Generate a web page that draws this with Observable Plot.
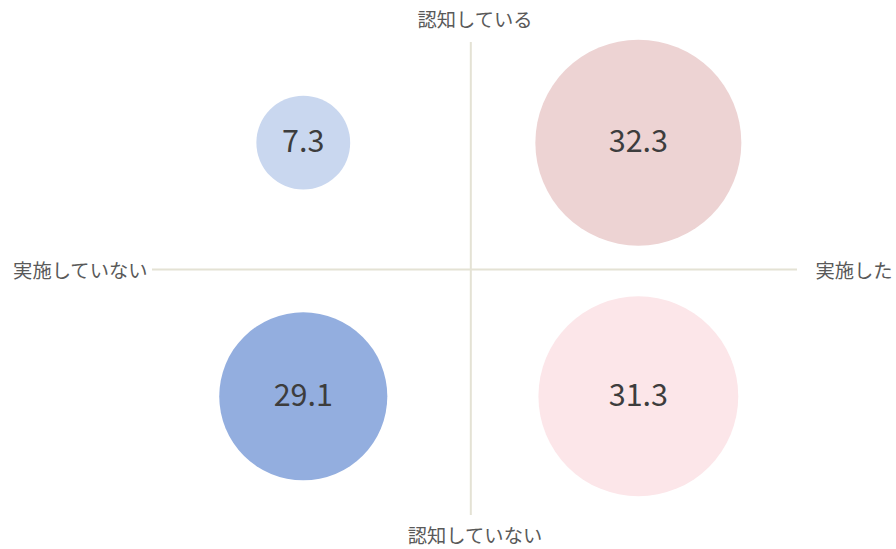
<!DOCTYPE html>
<html>
<head>
<meta charset="utf-8">
<script src="https://cdn.jsdelivr.net/npm/d3@7"></script>
<script src="https://cdn.jsdelivr.net/npm/@observablehq/plot@0.6"></script>
<style>
  html, body { margin: 0; padding: 0; background: #ffffff; }
  #chart svg { display: block; }
</style>
</head>
<body>
<div id="chart"></div>
<script>
// Quadrant categories (x: 実施, y: 認知)
const labels = ["7.3", "32.3", "29.1", "31.3"];
const values = [7.3, 32.3, 29.1, 31.3];
const xSide = [-1, 1, -1, 1];      // -1 = 実施していない, 1 = 実施した
const ySide = [1, 1, -1, -1];      // 1 = 認知している, -1 = 認知していない
// Bubble sizes (relative area)
const bubbleSizes = [6.7, 32.3, 21.5, 30.4];
const colors = ["#c9d7ef", "#edd3d3", "#93aedf", "#fce6e9"];

const axisLabels = {
  top: "認知している",
  bottom: "認知していない",
  left: "実施していない",
  right: "実施した"
};

const data = values.map((v, i) => ({
  value: v, label: labels[i], x: xSide[i], y: ySide[i],
  size: bubbleSizes[i], color: colors[i]
}));

const font = "'Noto Sans CJK JP', 'Noto Sans', sans-serif";

const chart = Plot.plot({
  width: 896,
  height: 549,
  marginLeft: 152,
  marginRight: 99,
  marginTop: 42,
  marginBottom: 34,
  style: { fontFamily: font, background: "#ffffff", overflow: "visible" },
  x: { domain: [-1.9, 1.95], axis: null },
  y: { domain: [-1.94, 1.79], axis: null },
  r: { type: "sqrt", domain: [0, 32.3], range: [0, 103] },
  marks: [
    Plot.ruleY([0], { stroke: "#e4e2d4", strokeWidth: 2 }),
    Plot.ruleX([0], { stroke: "#e4e2d4", strokeWidth: 2 }),
    Plot.dot(data, {
      x: "x", y: "y", r: "size",
      fill: d => d.color, stroke: "none"
    }),
    Plot.text(data, {
      x: "x", y: "y", text: "label",
      fontSize: 30.5, fill: "#3d3d3d", fontFamily: font
    }),
    Plot.text([axisLabels.top], {
      frameAnchor: "top", text: d => d, dy: -29,
      fontSize: 19.3, fill: "#595959", fontFamily: font
    }),
    Plot.text([axisLabels.bottom], {
      frameAnchor: "bottom", text: d => d, dy: 27,
      fontSize: 19.3, fill: "#595959", fontFamily: font
    }),
    Plot.text([axisLabels.left], {
      frameAnchor: "left", text: d => d, textAnchor: "end", dx: -5, dy: -7,
      fontSize: 19.3, fill: "#595959", fontFamily: font
    }),
    Plot.text([axisLabels.right], {
      frameAnchor: "right", text: d => d, textAnchor: "start", dx: 18, dy: -7,
      fontSize: 19.3, fill: "#595959", fontFamily: font
    })
  ]
});

document.getElementById("chart").appendChild(chart);
</script>
</body>
</html>
